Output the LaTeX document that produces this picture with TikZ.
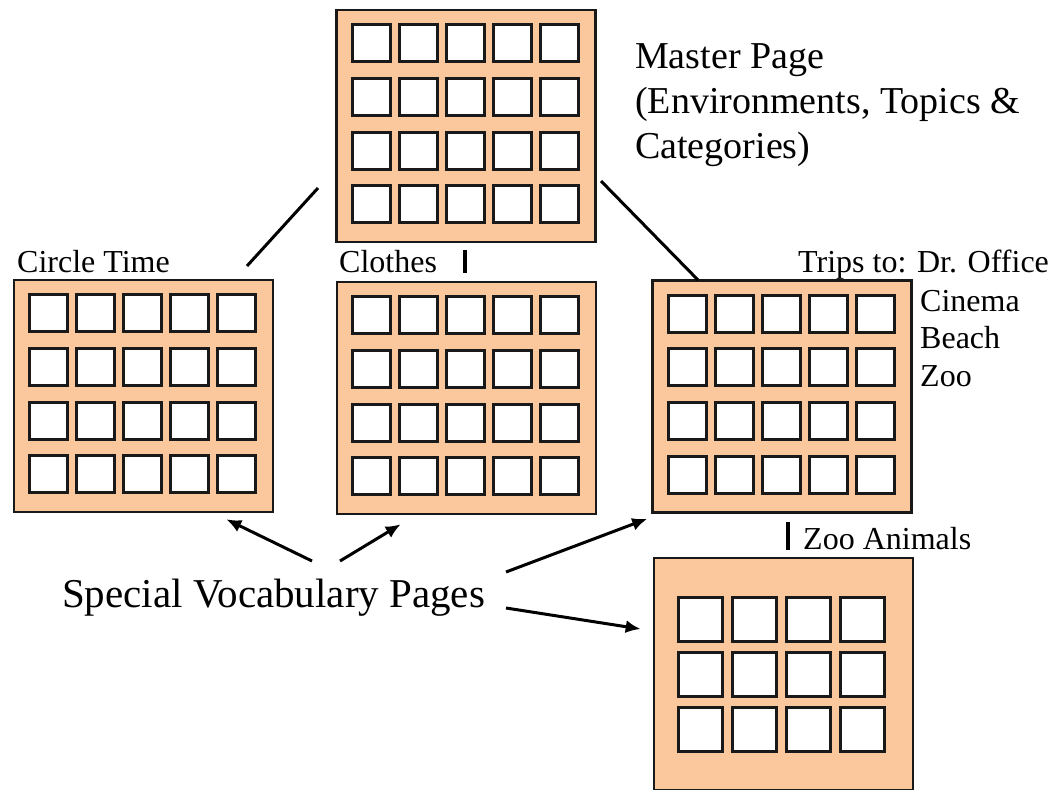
\documentclass[tikz,border=0pt]{standalone}
\usepackage{fontspec}
\setmainfont{Liberation Serif}
\usetikzlibrary{arrows.meta,calc,positioning}
\definecolor{pagefill}{RGB}{251,200,158}
\tikzset{
  panel/.style={draw=black!90, fill=pagefill, line width=2.6pt,
    minimum width=259pt, minimum height=232pt, inner sep=0pt},
  cell/.style={draw=black!90, fill=white, line width=3pt},
  link/.style={line width=3pt},
  pointer/.style={line width=3pt, -{Latex[length=15pt,width=13pt]}},
  tag/.style={inner sep=0pt, anchor=base west, font=\fontsize{32}{38}\selectfont},
  bar/.style={line width=4.5pt},
}
% 5 x 4 grid of symbol cells on a page
\newcommand\fillpage[1]{%
  \foreach \i in {0,...,4}
    \foreach \j in {0,...,3}
      \draw[cell] ($(#1.north west)+(17+47*\i,16+53.7*\j)$) rectangle ++(38,37);
}

\begin{document}
\begin{tikzpicture}[x=1pt,y=-1pt]
  \useasboundingbox (0,0) rectangle (1059,789);
  \node[panel] (master) at (466,126) {};
  \node[panel] (circle) at (143.5,396) {};
  \node[panel] (clothes) at (466.5,398) {};
  \node[panel] (trips) at (782,396.5) {};
  \node[panel] (zoo) at (783.5,674) {};
  \fillpage{master}
  \fillpage{circle}
  \fillpage{clothes}
  \fillpage{trips}
  \foreach \i in {0,...,3}
    \foreach \j in {0,...,2}
      \draw[cell] ($(zoo.north west)+(26+54*\i,41+55*\j)$) rectangle ++(44,44);
  %
  \node[inner sep=0pt, anchor=base west, align=left,
    font=\fontsize{38}{45}\selectfont] (mastertext) at (635,158)
    {Master Page\\(Environments, Topics \&\\Categories)};
  \node[tag] (circletext) at (17,272) {Circle Time};
  \node[tag] (clothestext) at (339,272) {Clothes};
  \node[tag] (tripstext) at (798,272) {Trips to: Dr. Office};
  \node[tag, anchor=north west, align=left,
    font=\fontsize{32}{37.5}\selectfont] (places) at (920,290) {Cinema\\Beach\\Zoo};
  \node[tag] (zootext) at (803,549) {Zoo Animals};
  \node[inner sep=0pt, anchor=base west, font=\fontsize{41}{48}\selectfont]
    (vocab) at (62,607) {Special Vocabulary Pages};
  %
  \draw[bar] (465,250) -- (465,273);
  \draw[bar] (788,522) -- (788,550);
  %
  \coordinate (mL) at (318,188);
  \coordinate (cT) at (247,266);
  \coordinate (mR) at (601,181);
  \coordinate (tT) at (698,280);
  \draw[link] (mL) -- (cT);
  \draw[link] (mR) -- (tT);
  %
  \coordinate (v1) at (312,561);
  \coordinate (v2) at (340,561);
  \coordinate (v3) at (506,572);
  \coordinate (v4) at (506,608);
  \draw[pointer] (v1) -- ($(circle.south east)+(-48,6)$);
  \draw[pointer] (v2) -- ($(clothes.south west)+(65,9)$);
  \draw[pointer] (v3) -- ($(trips.south west)+(-4,5)$);
  \draw[pointer] (v4) -- ($(zoo.west)+(-12,-45)$);
\end{tikzpicture}
\end{document}
